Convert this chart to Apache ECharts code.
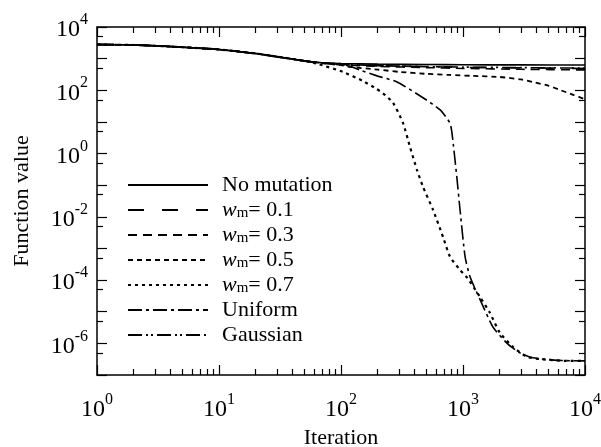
<!DOCTYPE html>
<html>
<head>
<meta charset="utf-8">
<script src="https://cdn.jsdelivr.net/npm/echarts@6/dist/echarts.min.js"></script>
<style>
  html, body { margin: 0; padding: 0; background: #fff; }
  #chart { width: 601px; height: 447px; }
</style>
</head>
<body>
<div id="chart"></div>
<script>
// shared start of every run
const headIter = [1, 2, 3, 5, 10, 20, 30, 50]
const headVal = [2800, 2700, 2550, 2300, 1950, 1450, 1150, 850]

const noMutIter = [70, 100, 200, 500, 1000, 3000, 10000]
const noMutVal = [740, 700, 670, 650, 640, 635, 630]

const w01Iter = [70, 100, 200, 500, 1000, 3000, 10000]
const w01Val = [730, 670, 600, 560, 530, 510, 490]

const w03Iter = [70, 100, 200, 500, 1000, 3000, 10000]
const w03Val = [720, 640, 570, 520, 490, 460, 440]

const w05Iter = [70, 100, 118, 200, 303, 500, 780, 1200, 2000, 3000, 3750, 5000, 6240, 8000, 10000]
const w05Val = [720, 620, 550, 450, 380, 330, 305, 285, 263, 220, 182, 140, 102, 72, 52]

const w07Iter = [63, 104, 150, 196, 221, 267, 322, 368, 420, 470, 568, 686, 782, 945, 1080, 1380, 1660, 2000, 2560, 3330, 4260, 7100, 10000]
const w07Val = [700, 380, 200, 110, 80, 40, 9.3, 1.6, 0.3, 0.089, 0.0166, 0.0023, 5.5e-4, 2.1e-4, 1.2e-4, 2.9e-5, 9.3e-6, 2.2e-6, 7.8e-7, 3.8e-7, 3.2e-7, 2.8e-7, 2.8e-7]

const uniIter = [70, 100, 120, 143, 200, 288, 470, 650, 780, 812, 890, 945, 1040, 1140, 1380, 1760, 2300, 2930, 3750, 6000, 10000]
const uniVal = [740, 690, 560, 435, 280, 183, 58, 24, 9.3, 4.5, 0.18, 0.017, 5.5e-4, 1.3e-4, 2.4e-5, 3.3e-6, 1.0e-6, 5e-7, 3.5e-7, 2.9e-7, 2.8e-7]

const gaussIter = [70, 100, 200, 500, 1000, 3000, 10000]
const gaussVal = [730, 660, 600, 560, 540, 520, 500]

const seriesNames = ['No mutation', 'w0.1', 'w0.3', 'w0.5', 'w0.7', 'Uniform', 'Gaussian']

// axis ticks and labels
const xMajor = [1, 10, 100, 1000, 10000]
const xMinor = []
for (let e = 0; e < 4; e++) {
  for (let k = 2; k <= 9; k++) xMinor.push(k * Math.pow(10, e))
}
const yMajor = [1e-7, 1e-6, 1e-5, 1e-4, 1e-3, 1e-2, 1e-1, 1, 10, 100, 1000, 10000]
const yMinor = [5e-7, 5e-6, 5e-5, 5e-4, 5e-3, 5e-2, 5e-1, 5, 50, 500, 5000]
const yLabels = [1e-6, 1e-4, 1e-2, 1, 100, 10000]

const font = 'Liberation Serif'

function pairs(iters, vals) {
  return iters.map((x, i) => [x, vals[i]])
}

function withHead(iters, vals) {
  return pairs(headIter, headVal).concat(pairs(iters, vals))
}

function powLabel(v) {
  const e = Math.round(Math.log10(v))
  return '{b|10}{s|' + e + '}'
}

const labelRich = {
  b: { fontFamily: font, fontSize: 24, color: '#000', lineHeight: 30, verticalAlign: 'bottom' },
  s: { fontFamily: font, fontSize: 16, color: '#000', lineHeight: 16, verticalAlign: 'top' }
}

function xAxisDef(position, ticks, len, showLine, showLabel) {
  return {
    type: 'log',
    position: position,
    min: 1,
    max: 10000,
    logBase: 10,
    gridIndex: 0,
    axisLine: { show: showLine, lineStyle: { color: '#000', width: 1.5 } },
    axisTick: { show: true, inside: true, length: len, customValues: ticks, lineStyle: { color: '#000', width: 1.2 } },
    axisLabel: showLabel ? {
      show: true,
      customValues: xMajor,
      margin: 17,
      formatter: powLabel,
      rich: labelRich
    } : { show: false },
    splitLine: { show: false },
    minorTick: { show: false }
  }
}

function yAxisDef(position, ticks, len, showLine, showLabel) {
  return {
    type: 'log',
    position: position,
    min: 1e-7,
    max: 1e4,
    logBase: 10,
    gridIndex: 0,
    axisLine: { show: showLine, lineStyle: { color: '#000', width: 1.5 } },
    axisTick: { show: true, inside: true, length: len, customValues: ticks, lineStyle: { color: '#000', width: 1.2 } },
    axisLabel: showLabel ? {
      show: true,
      customValues: yLabels,
      margin: 9,
      formatter: powLabel,
      rich: labelRich
    } : { show: false },
    splitLine: { show: false },
    minorTick: { show: false }
  }
}

const xMain = xAxisDef('bottom', xMajor, 10, true, true)
xMain.name = 'Iteration'
xMain.nameLocation = 'middle'
xMain.nameGap = 52
xMain.nameTextStyle = { fontFamily: font, fontSize: 22, color: '#000' }

const yMain = yAxisDef('left', yMajor, 10, true, true)
yMain.name = 'Function value'
yMain.nameLocation = 'middle'
yMain.nameGap = 64
yMain.nameTextStyle = { fontFamily: font, fontSize: 22, color: '#000' }

const styles = [
  'solid',
  [16, 18],
  [9, 6],
  [5, 4],
  [3, 4],
  [14, 4, 3, 4],
  [14, 4, 2, 3, 2, 4]
]
const widths = [1.6, 1.6, 1.6, 1.8, 2.2, 1.6, 1.6]

const dataSets = [
  withHead(noMutIter, noMutVal),
  withHead(w01Iter, w01Val),
  withHead(w03Iter, w03Val),
  withHead(w05Iter, w05Val),
  withHead(w07Iter, w07Val),
  withHead(uniIter, uniVal),
  withHead(gaussIter, gaussVal)
]

const series = seriesNames.map((name, i) => ({
  name: name,
  type: 'line',
  xAxisIndex: 0,
  yAxisIndex: 0,
  data: dataSets[i],
  symbol: 'none',
  showSymbol: false,
  smooth: 0.2,
  animation: false,
  lineStyle: { color: '#000', width: widths[i], type: styles[i] },
  itemStyle: { color: '#000' }
}))

const option = {
  backgroundColor: '#fff',
  animation: false,
  grid: { left: 97, right: 16, top: 27, bottom: 72, containLabel: false, outerBoundsMode: 'none' },
  legend: {
    orient: 'vertical',
    left: 122,
    top: 169,
    itemWidth: 80,
    itemHeight: 14,
    itemGap: 3,
    data: seriesNames,
    itemStyle: { opacity: 0 },
    formatter: name => {
      if (name.charAt(0) === 'w') {
        return '{it|w}{sub|m}{t|= ' + name.slice(1) + '}'
      }
      return '{t|' + name + '}'
    },
    textStyle: {
      padding: [0, 0, 0, 9],
      rich: {
        t: { fontFamily: font, fontSize: 22, color: '#000', lineHeight: 22, verticalAlign: 'top' },
        it: { fontFamily: font, fontSize: 22, fontStyle: 'italic', color: '#000', lineHeight: 22, verticalAlign: 'top' },
        sub: { fontFamily: font, fontSize: 15, color: '#000', lineHeight: 15, verticalAlign: 'bottom' }
      }
    }
  },
  xAxis: [
    xMain,
    xAxisDef('bottom', xMinor, 6, false, false),
    xAxisDef('top', xMajor, 10, true, false),
    xAxisDef('top', xMinor, 6, false, false)
  ],
  yAxis: [
    yMain,
    yAxisDef('left', yMinor, 6, false, false),
    yAxisDef('right', yMajor, 10, true, false),
    yAxisDef('right', yMinor, 6, false, false)
  ],
  series: series
}

const chart = echarts.init(document.getElementById('chart'))
chart.setOption(option)
</script>
</body>
</html>
